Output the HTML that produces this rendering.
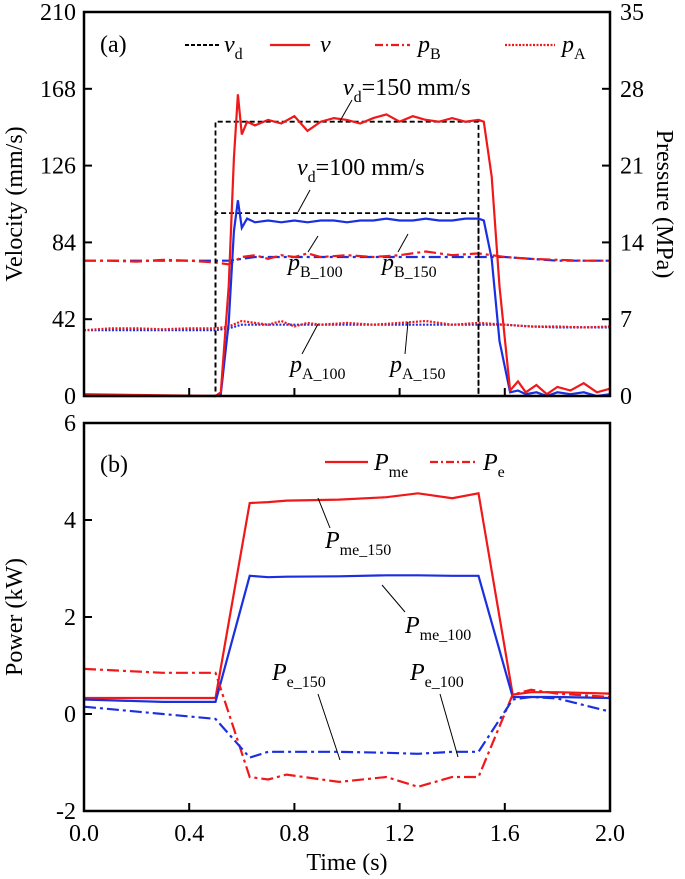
<!DOCTYPE html>
<html><head><meta charset="utf-8"><style>
body{margin:0;background:#fff}
svg{display:block;font-family:"Liberation Serif","DejaVu Serif",serif}
text{font-family:"Liberation Serif","DejaVu Serif",serif}
</style></head><body>
<svg id="c" width="685" height="879" viewBox="0 0 685 879" xmlns="http://www.w3.org/2000/svg"></svg>
<script>
// ---- data ----
const tV=[0,0.5,0.52,0.55,0.57,0.585,0.6,0.62,0.65,0.7,0.75,0.8,0.85,0.9,0.95,1.0,1.05,1.1,1.15,1.2,1.25,1.3,1.35,1.4,1.45,1.5,1.52,1.55,1.58,1.62,1.65,1.68,1.72,1.76,1.8,1.85,1.9,1.95,2.0];
const v150=[1,0,2,60,130,165,143,150,148,151,149,153,145,150,152,151,149,152,154,150,153,151,150,152,150,151,150,120,60,3,8,2,6,1,5,3,7,2,4];
const v100=[0,0,1,40,90,107,92,97,95,96,95,96,95,96,96,95,96,96,97,96,96,97,96,96,97,97,96,75,30,2,3,1,2,0,2,1,2,0,1];
const tVd=[0,0.5,0.5,1.5,1.5,2.0];
const vd150=[0,0,150,150,0,0];
const vd100=[0,0,100,100,0,0];
const tP=[0,0.1,0.2,0.3,0.4,0.5,0.55,0.6,0.65,0.7,0.75,0.8,0.85,0.9,1.0,1.1,1.2,1.3,1.4,1.5,1.6,1.7,1.8,1.9,2.0];
const pB150=[74,74,73.5,74.5,74,73,72,76,77,75,77,76,78,76,77,76,77,79,77,78,76,75,74.5,74,74];
const pB100=[74,74,74,74,74,74,74,75,76,76,76,76,76,76,76,76,76,76,76,76,76,75,74,74,74];
const pA150=[36,37,37,36.5,37,37,38,41,40,39,41,38,40,39,40,39,40,41,39,40,39,38,38,37.5,38];
const pA100=[36,36,36,36,36,36,37,39,39,39,39,39,39,39,39,39,39,39,39,39,39,38,37.5,37.5,37.5];
const tPw=[0,0.3,0.5,0.63,0.7,0.77,0.97,1.15,1.27,1.4,1.5,1.63,1.7,1.8,2.0];
const pme150=[0.33,0.33,0.33,4.35,4.37,4.4,4.42,4.47,4.55,4.45,4.55,0.4,0.45,0.45,0.42];
const pme100=[0.3,0.25,0.25,2.85,2.82,2.83,2.84,2.86,2.86,2.85,2.85,0.35,0.35,0.35,0.33];
const pe150=[0.93,0.85,0.85,-1.3,-1.35,-1.25,-1.4,-1.3,-1.5,-1.3,-1.3,0.4,0.5,0.42,0.35];
const pe100=[0.15,0,-0.1,-0.9,-0.78,-0.78,-0.78,-0.8,-0.82,-0.78,-0.78,0.3,0.35,0.32,0.05];
const xTicks=[0,0.4,0.8,1.2,1.6,2.0];
const vTicks=[0,42,84,126,168,210];
const pTicks=[0,7,14,21,28,35];
const pwTicks=[-2,0,2,4,6];

const NS="http://www.w3.org/2000/svg",svg=document.getElementById('c');
const X0=84,X1=610,A0=396,A1=12,B0=811,B1=423;
const x=t=>X0+(X1-X0)*t/2;
const ya=v=>A0-(A0-A1)*v/210;
const yb=v=>B0-(B0-B1)*(v+2)/8;
function el(tag,at,name,par){const e=document.createElementNS(NS,tag);for(const k in at)e.setAttribute(k,at[k]);


(par||svg).appendChild(e);return e;}
function txt(s,xx,yy,name,anchor,size,sty){const e=el('text',{x:xx,y:yy,'font-size':size||24,'text-anchor':anchor||'start','font-family':'Liberation Serif, DejaVu Serif, serif'},name);e.innerHTML=s;if(sty)e.setAttribute('font-style',sty);return e;}
function line(ts,vs,fy,color,dash,name,w){const d=ts.map((t,i)=>(i?'L':'M')+x(t).toFixed(1)+','+fy(vs[i]).toFixed(1)).join('');
el('path',{d:d,fill:'none',stroke:color,'stroke-width':w||2.2,'stroke-dasharray':dash||''},name);}
const DD='12,4,3,4',DOT='2,1.5',DASH='5,3';
line(tP,pA100,ya,'#1a2fe0',DOT,'pa-100-line');
line(tP,pA150,ya,'#f01818',DOT,'pa-150-line');
line(tP,pB100,ya,'#1a2fe0',DD,'pb-100-line');
line(tP,pB150,ya,'#f01818',DD,'pb-150-line');
line(tVd,vd150,ya,'#000',DASH,'vd-150-line',1.8);
line(tVd,vd100,ya,'#000',DASH,'vd-100-line',1.8);
line(tV,v100,ya,'#1a2fe0','','v-100-line');
line(tV,v150,ya,'#f01818','','v-150-line');
line(tPw,pme150,yb,'#f01818','','pme-150-line');
line(tPw,pme100,yb,'#1a2fe0','','pme-100-line');
line(tPw,pe150,yb,'#f01818',DD,'pe-150-line');
line(tPw,pe100,yb,'#1a2fe0',DD,'pe-100-line');
el('rect',{x:X0,y:A1,width:X1-X0,height:A0-A1,fill:'none',stroke:'#000','stroke-width':2.5},'panel-a-frame');
el('rect',{x:X0,y:B1,width:X1-X0,height:B0-B1,fill:'none',stroke:'#000','stroke-width':2.5},'panel-b-frame');
vTicks.forEach(v=>{el('line',{x1:X0,x2:X0+8,y1:ya(v),y2:ya(v),stroke:'#000','stroke-width':2},'v-tick');txt(v,X0-8,ya(v)+8,'v-tick-label','end');});
pTicks.forEach(v=>{const yy=ya(v*6);el('line',{x1:X1,x2:X1-8,y1:yy,y2:yy,stroke:'#000','stroke-width':2},'p-tick');txt(v,X1+10,yy+8,'p-tick-label','start');});
pwTicks.forEach(v=>{el('line',{x1:X0,x2:X0+8,y1:yb(v),y2:yb(v),stroke:'#000','stroke-width':2},'power-tick');txt(v,X0-8,yb(v)+8,'power-tick-label','end');});
xTicks.forEach(t=>{el('line',{x1:x(t),x2:x(t),y1:B0,y2:B0-8,stroke:'#000','stroke-width':2},'x-tick');
el('line',{x1:x(t),x2:x(t),y1:A0,y2:A0-8,stroke:'#000','stroke-width':2},'x-tick-a');
txt(t.toFixed(1),x(t),B0+30,'x-tick-label','middle');});
txt('Time (s)',x(1),870,'x-axis-title','middle');
let t1=txt('Velocity (mm/s)',0,0,'velocity-axis-title','middle');t1.setAttribute('transform','translate(22,204) rotate(-90)');
let t2=txt('Pressure (MPa)',0,0,'pressure-axis-title','middle');t2.setAttribute('transform','translate(657,204) rotate(90)');
let t3=txt('Power (kW)',0,0,'power-axis-title','middle');t3.setAttribute('transform','translate(22,617) rotate(-90)');
txt('(a)',100,52,'panel-a-label');
el('line',{x1:185,x2:220,y1:45,y2:45,stroke:'#000','stroke-width':2,'stroke-dasharray':'4,2'},'legend-vd-swatch');
txt('<tspan font-style="italic">v</tspan><tspan font-size="16" dy="7">d</tspan>',224,52,'legend-vd');
el('line',{x1:270,x2:310,y1:45,y2:45,stroke:'#f01818','stroke-width':2.2},'legend-v-swatch');
txt('v',320,52,'legend-v','start',24,'italic');
el('line',{x1:375,x2:410,y1:45,y2:45,stroke:'#f01818','stroke-width':2.2,'stroke-dasharray':'8,3,2,3'},'legend-pb-swatch');
txt('<tspan font-style="italic">p</tspan><tspan font-size="16" dy="7">B</tspan>',418,52,'legend-pb');
el('line',{x1:505,x2:555,y1:45,y2:45,stroke:'#f01818','stroke-width':2.2,'stroke-dasharray':'2,1.5'},'legend-pa-swatch');
txt('<tspan font-style="italic">p</tspan><tspan font-size="16" dy="7">A</tspan>',562,52,'legend-pa');
function ann(s,xx,yy,name,lx1,ly1,lx2,ly2){txt(s,xx,yy,name);el('line',{x1:lx1,y1:ly1,x2:lx2,y2:ly2,stroke:'#000','stroke-width':1},name+'-leader');}
ann('<tspan font-style="italic">v</tspan><tspan font-size="16" dy="7">d</tspan><tspan dy="-7">=150 mm/s</tspan>',343,95,'vd150-annotation',352,100,340,121);
ann('<tspan font-style="italic">v</tspan><tspan font-size="16" dy="7">d</tspan><tspan dy="-7">=100 mm/s</tspan>',297,175,'vd100-annotation',310,190,298,212);
ann('<tspan font-style="italic">p</tspan><tspan font-size="16" dy="7">B_100</tspan>',288,270,'pb100-annotation',308,252,318,236);
ann('<tspan font-style="italic">p</tspan><tspan font-size="16" dy="7">B_150</tspan>',382,270,'pb150-annotation',398,252,408,234);
ann('<tspan font-style="italic">p</tspan><tspan font-size="16" dy="7">A_100</tspan>',290,372,'pa100-annotation',302,354,318,324);
ann('<tspan font-style="italic">p</tspan><tspan font-size="16" dy="7">A_150</tspan>',390,372,'pa150-annotation',405,354,408,322);
txt('(b)',100,472,'panel-b-label');
el('line',{x1:325,x2:368,y1:462,y2:462,stroke:'#f01818','stroke-width':2.2},'legend-pme-swatch');
txt('<tspan font-style="italic">P</tspan><tspan font-size="16" dy="7">me</tspan>',374,470,'legend-pme');
el('line',{x1:430,x2:475,y1:462,y2:462,stroke:'#f01818','stroke-width':2.2,'stroke-dasharray':'8,3,2,3'},'legend-pe-swatch');
txt('<tspan font-style="italic">P</tspan><tspan font-size="16" dy="7">e</tspan>',483,470,'legend-pe');
ann('<tspan font-style="italic">P</tspan><tspan font-size="16" dy="7">me_150</tspan>',325,548,'pme150-annotation',330,528,318,498);
ann('<tspan font-style="italic">P</tspan><tspan font-size="16" dy="7">me_100</tspan>',405,633,'pme100-annotation',405,612,382,585);
ann('<tspan font-style="italic">P</tspan><tspan font-size="16" dy="7">e_150</tspan>',272,680,'pe150-annotation',318,694,340,760);
ann('<tspan font-style="italic">P</tspan><tspan font-size="16" dy="7">e_100</tspan>',410,680,'pe100-annotation',440,694,458,757);
</script>
</body></html>
